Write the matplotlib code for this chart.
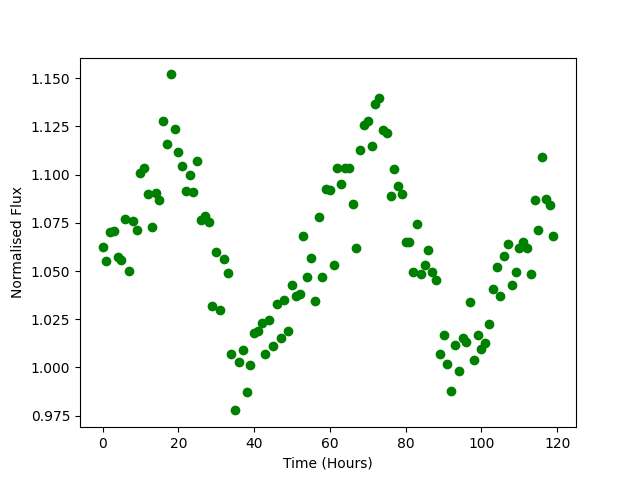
import numpy as np
import matplotlib.pyplot as plt

# hours since start of observation
time_hours = np.arange(120)

# normalised flux
flux = [
    1.0627, 1.0550, 1.0700, 1.0710, 1.0575, 1.0555, 1.0770, 1.0500, 1.0757, 1.0715,
    1.1010, 1.1037, 1.0897, 1.0727, 1.0907, 1.0866, 1.1280, 1.1157, 1.1520, 1.1235,
    1.1115, 1.1047, 1.0917, 1.1000, 1.0910, 1.1070, 1.0763, 1.0788, 1.0752, 1.0320,
    1.0600, 1.0300, 1.0560, 1.0488, 1.0067, 0.9777, 1.0030, 1.0088, 0.9875, 1.0010,
    1.0176, 1.0190, 1.0230, 1.0067, 1.0245, 1.0110, 1.0330, 1.0155, 1.0350, 1.0190,
    1.0425, 1.0373, 1.0383, 1.0680, 1.0470, 1.0565, 1.0347, 1.0778, 1.0470, 1.0928,
    1.0918, 1.0530, 1.1037, 1.0954, 1.1037, 1.1037, 1.0850, 1.0617, 1.1130, 1.1255,
    1.1280, 1.1150, 1.1364, 1.1400, 1.1230, 1.1214, 1.0890, 1.1027, 1.0939, 1.0902,
    1.0653, 1.0653, 1.0493, 1.0742, 1.0482, 1.0530, 1.0607, 1.0493, 1.0456, 1.0067,
    1.0166, 1.0016, 0.9880, 1.0114, 0.9980, 1.0150, 1.0130, 1.0337, 1.0036, 1.0166,
    1.0093, 1.0125, 1.0223, 1.0405, 1.0520, 1.0373, 1.0576, 1.0638, 1.0430, 1.0493,
    1.0617, 1.0648, 1.0617, 1.0482, 1.0866, 1.0715, 1.1090, 1.0876, 1.0840, 1.0680,
]


def plot_lightcurve(t, f):
    plt.figure(figsize=(6.4, 4.8), dpi=100)
    plt.plot(t, f, 'go')
    plt.xlabel("Time (Hours)")
    plt.ylabel("Normalised Flux")
    plt.savefig("out.png")


if __name__ == "__main__":
    plot_lightcurve(time_hours, flux)
